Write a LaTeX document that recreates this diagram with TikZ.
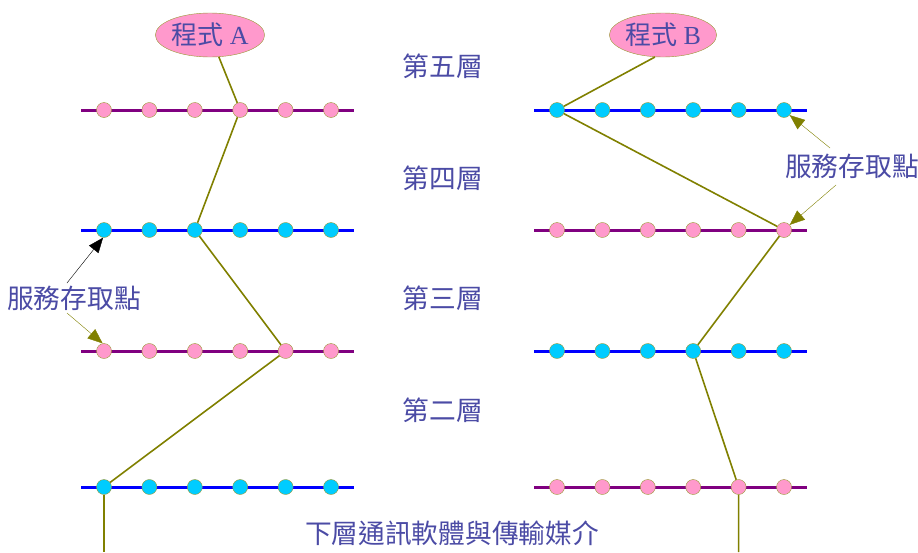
\documentclass[tikz,border=0pt]{standalone}
\usepackage{fontspec}
\setmainfont{Liberation Serif}
\newfontfamily\cjk{Noto Sans CJK TC}
\usetikzlibrary{shapes.geometric}
\usetikzlibrary{arrows.meta}
\definecolor{pinkdot}{HTML}{FF99CC}
\definecolor{cyandot}{HTML}{00CCFF}
\definecolor{rimol}{HTML}{999933}
\definecolor{pathol}{HTML}{808000}
\definecolor{txtblue}{HTML}{4B4BA5}
\definecolor{layp}{HTML}{800080}
\tikzset{
    dotp/.style = {circle, thin, draw=rimol, fill=pinkdot, minimum size=15pt, inner sep=0pt},
    dotc/.style = {circle, thin, draw=rimol, fill=cyandot, minimum size=15pt, inner sep=0pt},
    linep/.style = {-, line width=3pt, layp},
    lineb/.style = {-, line width=3pt, blue},
    prog/.style = {ellipse, thin, draw=rimol, fill=pinkdot, minimum width=105pt, minimum height=44pt, inner sep=0pt, text=txtblue, font=\fontsize{26}{30}\selectfont},
    layer/.style = {text=txtblue, font=\cjk\fontsize{26.7}{31}\selectfont},
    edgeo/.style = {-, line width=1.6pt, pathol},
    pointk/.style = {-{Triangle[length=15pt,width=12pt]}, thin, black}, % to upper point
    pointo/.style = {-{Triangle[length=15pt,width=12pt]}, thin, pathol}, % to lower point
}

\begin{document}
\begin{tikzpicture}[x=1pt,y=-1pt]
\useasboundingbox (0,0) rectangle (918,552);

% layer lines
\draw[linep] (81,110) -- (354,110);
\draw[lineb] (81,230) -- (354,230);
\draw[linep] (81,351) -- (354,351);
\draw[lineb] (81,487) -- (354,487);
\draw[lineb] (534,110) -- (807,110);
\draw[linep] (534,230) -- (807,230);
\draw[lineb] (534,351) -- (807,351);
\draw[linep] (534,487) -- (807,487);

% access points
\foreach \c in {1,...,6} \node[dotp] (la1\c) at ({104+45.4*(\c-1)},110) {};
\foreach \c in {1,...,6} \node[dotc] (la2\c) at ({104+45.4*(\c-1)},230) {};
\foreach \c in {1,...,6} \node[dotp] (la3\c) at ({104+45.4*(\c-1)},351) {};
\foreach \c in {1,...,6} \node[dotc] (la4\c) at ({104+45.4*(\c-1)},487) {};
\foreach \c in {1,...,6} \node[dotc] (rb1\c) at ({557+45.4*(\c-1)},110) {};
\foreach \c in {1,...,6} \node[dotp] (rb2\c) at ({557+45.4*(\c-1)},230) {};
\foreach \c in {1,...,6} \node[dotc] (rb3\c) at ({557+45.4*(\c-1)},351) {};
\foreach \c in {1,...,6} \node[dotp] (rb4\c) at ({557+45.4*(\c-1)},487) {};

\node[prog] at (210,35) (progA) {{\cjk 程式} A};
\node[prog] at (663,35) (progB) {{\cjk 程式} B};

\node[layer] at (443,66) (l5) {第五層};
\node[layer] at (443,178) (l4) {第四層};
\node[layer] at (443,298) (l3) {第三層};
\node[layer] at (443,410) (l2) {第二層};
\node[layer] at (452,533) (l1) {下層通訊軟體與傳輸媒介};
\node[layer] at (74,298) (tagL) {服務存取點};
\node[layer] at (852,166) (tagR) {服務存取點};

\coordinate (downA) at (104,552);
\coordinate (downB) at (738.6,552);
\coordinate (tagLup) at (67,283);
\coordinate (tagLdn) at (67,313);
\coordinate (tagRup) at (830,148);
\coordinate (tagRdn) at (836,185);

% path of A
\draw[edgeo] (progA) -- (la14);
\draw[edgeo] (la14) -- (la23);
\draw[edgeo] (la23) -- (la35);
\draw[edgeo] (la35) -- (la41);
\draw[edgeo] (la41) -- (downA);

% path of B
\draw[edgeo] (progB.-110) -- (rb11);
\draw[edgeo] (rb11) -- (rb26);
\draw[edgeo] (rb26) -- (rb34);
\draw[edgeo] (rb34) -- (rb45);
\draw[edgeo] (rb45) -- (downB);

\draw[pointk] (tagLup) -- (la21.-97);
\draw[pointo] (tagLdn) -- (la31.100);
\draw[pointo] (tagRup) -- (rb16.-42);
\draw[pointo] (tagRdn) -- (rb26.42);

\end{tikzpicture}
\end{document}
